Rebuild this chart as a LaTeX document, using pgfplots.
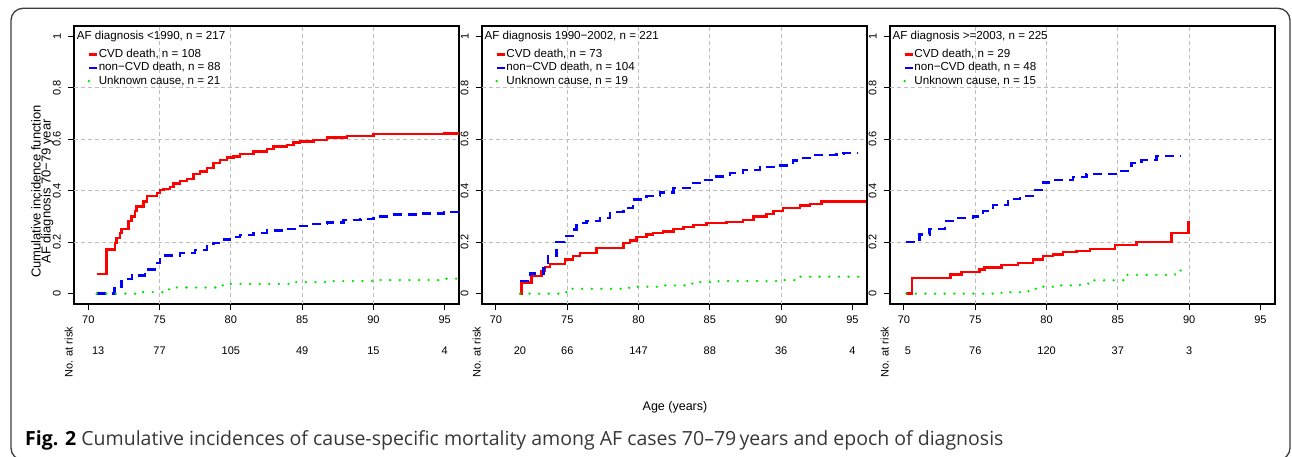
\documentclass[border=0pt]{standalone}
\usepackage{fontspec}
\setmainfont{Liberation Sans}
\newfontfamily\capfont{Open Sans}
\usepackage{pgfplots}
\pgfplotsset{compat=1.18}

\definecolor{cvd}{RGB}{255,0,0}
\definecolor{noncvd}{RGB}{0,0,255}
\definecolor{unk}{RGB}{0,230,0}
\definecolor{gridgray}{RGB}{190,190,190}
\definecolor{framegray}{RGB}{60,60,60}
\definecolor{captext}{RGB}{55,55,55}

\newcommand\tickfont{\fontsize{11}{13}\selectfont}
\newcommand\legfont{\fontsize{11.6}{13}\selectfont}

\pgfplotsset{
  kmpanel/.style={
    at={(#1,153pt)}, anchor=south west,
    scale only axis, width=385pt, height=278.3pt,
    xmin=69, xmax=96, ymin=-0.04, ymax=1.04,
    clip=false,
    tick pos=left, tick align=outside, major tick length=6pt,
    xtick={70,75,80,85,90,95},
    ytick={0,0.2,0.4,0.6,0.8,1},
    yticklabels={0,0.2,0.4,0.6,0.8,1},
    extra x ticks={75,80,85,90}, extra x tick labels={},
    extra y ticks={0.2,0.4,0.6,0.8}, extra y tick labels={},
    extra tick style={grid=major, major tick length=0pt},
    major grid style={gridgray, dash pattern=on 4pt off 3pt, line width=0.8pt},
    axis line style={line width=1.8pt},
    tick style={line width=1pt, black},
    ticklabel style={font=\tickfont},
    /pgf/number format/assume math mode=true,
    xticklabel style={anchor=north, inner sep=0pt},
    xticklabel shift=6pt,
    yticklabel style={rotate=90, anchor=south, inner sep=0pt},
    yticklabel shift=7pt,
    legend style={at={(rel axis cs:0.035,0.9213)}, anchor=north west,
      draw=none, fill=none, inner sep=0pt, row sep=0pt, font=\legfont,
      nodes={inner sep=0.5pt, text height=9.3pt, text depth=3pt}},
    legend cell align=left,
    legend image code/.code={\draw[##1] (0pt,0pt) -- (8pt,0pt);},
  },
  cvdline/.style={const plot, cvd, line width=2.4pt},
  noncvdline/.style={const plot, noncvd, line width=2.4pt, dash pattern=on 9pt off 6pt},
  unkline/.style={const plot, unk, line width=2.6pt, line cap=round, dash pattern=on 0pt off 9.6pt},
}

\begin{document}
\begin{tikzpicture}
\useasboundingbox (0pt,0pt) rectangle (1292pt,457pt);
\draw[framegray, line width=1.3pt, rounded corners=12pt] (11pt,-3pt) rectangle (1290pt,448.7pt);

% y label and common x label
\node[rotate=90, anchor=base, inner sep=0pt, font=\fontsize{13}{13}\selectfont] at (40.5pt,265.5pt) {Cumulative incidence function};
\node[rotate=90, anchor=base, inner sep=0pt, font=\fontsize{13}{13}\selectfont] at (50.5pt,265.5pt) {AF diagnosis 70−79 year};
\node[font=\fontsize{12.5}{13}\selectfont] at (675pt,50pt) {Age (years)};

% panel 1: diagnosis before 1990
\begin{axis}[kmpanel=74pt]
\addplot[cvdline] coordinates {
(70.59,0.077) (71.29,0.171) (71.87,0.197) (71.99,0.216) (72.22,0.236) (72.34,0.251)
(72.81,0.281) (73.04,0.300) (73.28,0.320) (73.39,0.339) (73.86,0.358) (74.10,0.380)
(74.80,0.390) (75.03,0.403) (75.27,0.407) (75.73,0.414) (75.97,0.427) (76.44,0.438)
(76.91,0.446) (77.37,0.465) (77.84,0.474) (78.31,0.487) (78.78,0.506) (79.25,0.519)
(79.71,0.528) (80.18,0.532) (80.65,0.541) (81.59,0.552) (82.52,0.562) (82.99,0.571)
(83.93,0.577) (84.40,0.586) (84.86,0.590) (85.80,0.597) (86.74,0.606) (88.14,0.612)
(90.01,0.619) (94.93,0.622) (95.98,0.622)};
\addlegendentry{CVD death, n = 108}
\addplot[noncvdline] coordinates {
(70.59,0) (71.83,0.027) (72.34,0.058) (73.05,0.071) (73.98,0.094) (74.68,0.120)
(75.04,0.148) (76.44,0.159) (77.49,0.169) (78.31,0.184) (78.78,0.197) (79.25,0.210)
(79.95,0.219) (80.65,0.227) (81.59,0.236) (82.52,0.245) (83.93,0.251) (84.86,0.262)
(85.57,0.271) (86.74,0.277) (87.91,0.287) (89.08,0.291) (90.01,0.300) (91.18,0.307)
(93.06,0.311) (94.93,0.316) (95.98,0.320)};
\addlegendentry{non−CVD death, n = 88}
\addplot[unkline] coordinates {
(70.59,0) (73.60,0.006) (75.20,0.017) (76.20,0.024) (79.00,0.032) (79.95,0.038)
(84.40,0.045) (87.20,0.049) (90.01,0.053) (94.93,0.058) (95.98,0.058)};
\addlegendentry{Unknown cause, n = 21}
\node[anchor=base west, inner sep=0pt, font=\legfont] at (rel axis cs:0.007,0.9515) {AF diagnosis <1990, n = 217};
\node[rotate=90, font=\tickfont] at (axis cs:68.62,-0.227) {No. at risk};
\node[font=\tickfont] at (axis cs:70.7,-0.222) {13};
\node[font=\tickfont] at (axis cs:75,-0.222) {77};
\node[font=\tickfont] at (axis cs:80,-0.222) {105};
\node[font=\tickfont] at (axis cs:85,-0.222) {49};
\node[font=\tickfont] at (axis cs:90,-0.222) {15};
\node[font=\tickfont] at (axis cs:95,-0.222) {4};
\end{axis}

% panel 2: diagnosis 1990-2002
\begin{axis}[kmpanel=481.7pt]
\addplot[cvdline] coordinates {
(71.68,0) (71.80,0.043) (72.50,0.068) (73.20,0.088) (73.44,0.103) (73.79,0.116)
(74.84,0.133) (75.42,0.146) (75.89,0.158) (77.06,0.178) (78.93,0.197) (79.40,0.206)
(79.86,0.220) (80.57,0.229) (81.03,0.236) (81.73,0.242) (82.44,0.251) (83.14,0.259)
(83.84,0.267) (84.77,0.274) (86.18,0.278) (87.34,0.287) (88.05,0.300) (88.98,0.309)
(89.45,0.320) (90.15,0.332) (91.32,0.343) (92.02,0.349) (92.84,0.358) (95.95,0.358)};
\addlegendentry{CVD death, n = 73}
\addplot[noncvdline] coordinates {
(71.68,0.049) (72.38,0.079) (73.32,0.100) (73.67,0.146) (74.25,0.200) (74.84,0.223)
(75.42,0.249) (75.66,0.274) (76.36,0.281) (77.29,0.294) (77.99,0.317) (78.93,0.332)
(79.63,0.365) (80.57,0.380) (81.50,0.393) (82.44,0.410) (83.60,0.429) (84.31,0.442)
(85.24,0.455) (86.41,0.468) (87.34,0.481) (88.51,0.491) (89.68,0.497) (90.38,0.506)
(90.85,0.517) (91.55,0.526) (92.25,0.539) (93.89,0.541) (94.36,0.545) (95.41,0.545)};
\addlegendentry{non−CVD death, n = 104}
\addplot[unkline] coordinates {
(71.68,0) (74.49,0.006) (75.19,0.019) (79.16,0.023) (79.86,0.027) (81.50,0.032)
(83.37,0.039) (84.31,0.045) (85.24,0.049) (89.92,0.053) (91.32,0.066) (95.95,0.066)};
\addlegendentry{Unknown cause, n = 19}
\node[anchor=base west, inner sep=0pt, font=\legfont] at (rel axis cs:0.007,0.9515) {AF diagnosis 1990−2002, n = 221};
\node[rotate=90, font=\tickfont] at (axis cs:68.65,-0.227) {No. at risk};
\node[font=\tickfont] at (axis cs:71.68,-0.222) {20};
\node[font=\tickfont] at (axis cs:75,-0.222) {66};
\node[font=\tickfont] at (axis cs:80,-0.222) {147};
\node[font=\tickfont] at (axis cs:85,-0.222) {88};
\node[font=\tickfont] at (axis cs:90,-0.222) {36};
\node[font=\tickfont] at (axis cs:95,-0.222) {4};
\end{axis}

% panel 3: diagnosis 2003 or later
\begin{axis}[kmpanel=889.7pt]
\addplot[cvdline] coordinates {
(70.16,0) (70.56,0.062) (73.25,0.075) (74.03,0.084) (75.31,0.094) (75.66,0.101)
(76.84,0.111) (78.01,0.120) (79.06,0.133) (79.76,0.146) (80.46,0.152) (81.17,0.161)
(82.10,0.165) (83.04,0.174) (84.79,0.188) (86.32,0.200) (88.77,0.236) (89.94,0.281)};
\addlegendentry{CVD death, n = 29}
\addplot[noncvdline] coordinates {
(70.16,0.200) (71.10,0.229) (71.80,0.251) (72.86,0.281) (73.44,0.294) (74.85,0.300)
(75.55,0.320) (76.25,0.345) (77.30,0.367) (78.12,0.380) (79.06,0.403) (79.76,0.432)
(80.46,0.442) (81.87,0.452) (82.80,0.464) (85.03,0.477) (85.96,0.506) (86.67,0.519)
(87.72,0.535) (89.36,0.535)};
\addlegendentry{non−CVD death, n = 48}
\addplot[unkline] coordinates {
(70.16,0) (76.60,0.003) (77.19,0.006) (78.36,0.010) (79.06,0.019) (79.53,0.027)
(80.46,0.032) (82.34,0.039) (83.27,0.052) (85.38,0.055) (85.50,0.073) (89.01,0.090)
(89.71,0.090)};
\addlegendentry{Unknown cause, n = 15}
\node[anchor=base west, inner sep=0pt, font=\legfont] at (rel axis cs:0.007,0.9515) {AF diagnosis >=2003, n = 225};
\node[rotate=90, font=\tickfont] at (axis cs:68.64,-0.227) {No. at risk};
\node[font=\tickfont] at (axis cs:70.28,-0.222) {5};
\node[font=\tickfont] at (axis cs:75,-0.222) {76};
\node[font=\tickfont] at (axis cs:80,-0.222) {120};
\node[font=\tickfont] at (axis cs:85,-0.222) {37};
\node[font=\tickfont] at (axis cs:90,-0.222) {3};
\end{axis}

\node[anchor=base west, inner sep=0pt, text=captext, font=\capfont\fontsize{19.5}{22}\selectfont] at (25pt,11.7pt)
  {\textcolor{black}{\textbf{Fig. 2}} Cumulative incidences of cause-specific mortality among AF cases 70–79\,years and epoch of diagnosis};
\end{tikzpicture}
\end{document}
